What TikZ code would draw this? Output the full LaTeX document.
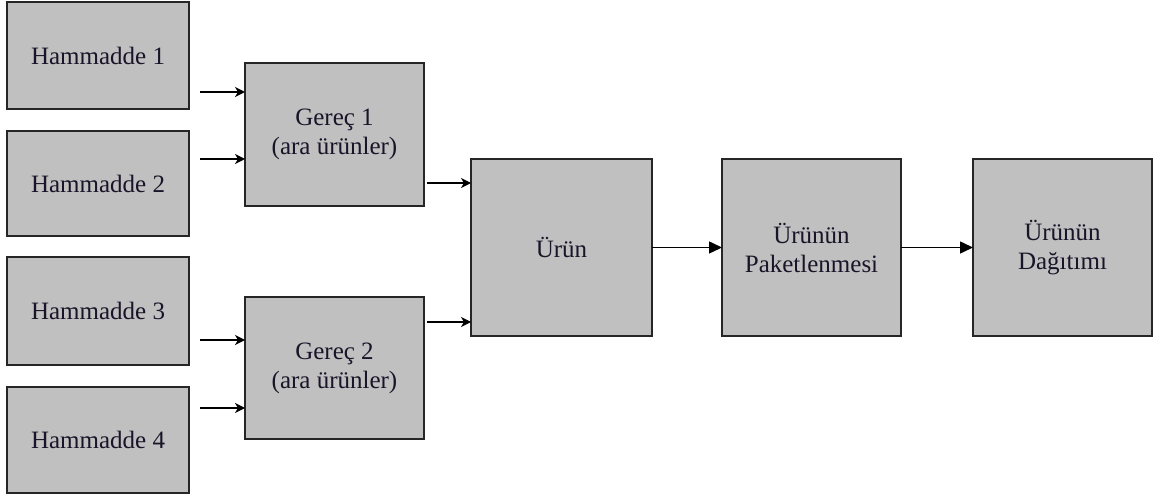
\documentclass[tikz,border=0pt]{standalone}
\usepackage{fontspec}
\setmainfont{Liberation Serif}
\usetikzlibrary{arrows.meta}
\definecolor{boxgray}{RGB}{192,192,192}
\definecolor{inkdark}{RGB}{25,20,40}
\begin{document}
\begin{tikzpicture}[x=0.5pt,y=-0.5pt,
  blk/.style={draw=black!85,line width=1pt,fill=boxgray,inner sep=0pt,outer sep=0pt,
    align=center,text=inkdark,font=\fontsize{12.5}{14.5}\selectfont},
  feed/.style={line width=0.75pt,-{Stealth[length=5pt,width=5pt,inset=1.5pt]}},
  flow/.style={line width=0.75pt,-{Triangle[length=6.5pt,width=6pt]}}]
\useasboundingbox (0,0) rectangle (1157,497);

% raw materials
\node[blk,minimum width=91pt,minimum height=53.5pt] (h1) at (98,55.5) {Hammadde 1};
\node[blk,minimum width=91pt,minimum height=52.5pt] (h2) at (98,183.5) {Hammadde 2};
\node[blk,minimum width=91pt,minimum height=54pt] (h3) at (98,311) {Hammadde 3};
\node[blk,minimum width=91pt,minimum height=53pt] (h4) at (98,440) {Hammadde 4};

% intermediate products
\node[blk,minimum width=89.5pt,minimum height=71.5pt] (g1) at (334.5,134.5) {Gereç 1\\(ara ürünler)};
\node[blk,minimum width=89.5pt,minimum height=71pt] (g2) at (334.5,368) {Gereç 2\\(ara ürünler)};

% product chain
\node[blk,minimum width=90.5pt,minimum height=88.5pt] (u) at (561.5,247.5) {Ürün};
\node[blk,minimum width=89.5pt,minimum height=88.5pt] (p) at (811.5,247.5) {Ürünün\\Paketlenmesi};
\node[blk,minimum width=89.5pt,minimum height=88.5pt] (d) at (1062.5,247.5) {Ürünün\\Dağıtımı};

% arrow heights
\coordinate (y1) at (0,92);
\coordinate (y2) at (0,159);
\coordinate (y3) at (0,340);
\coordinate (y4) at (0,408);
\coordinate (y5) at (0,183);
\coordinate (y6) at (0,322);

\draw[feed] ([xshift=5.5pt]h1.east |- y1) -- (g1.west |- y1);
\draw[feed] ([xshift=5.5pt]h2.east |- y2) -- (g1.west |- y2);
\draw[feed] ([xshift=5.5pt]h3.east |- y3) -- (g2.west |- y3);
\draw[feed] ([xshift=5.5pt]h4.east |- y4) -- (g2.west |- y4);
\draw[feed] ([xshift=1.5pt]g1.east |- y5) -- (u.west |- y5);
\draw[feed] ([xshift=1.5pt]g2.east |- y6) -- (u.west |- y6);

\draw[flow] (u.east) -- (p.west);
\draw[flow] (p.east) -- (d.west);
\end{tikzpicture}
\end{document}
